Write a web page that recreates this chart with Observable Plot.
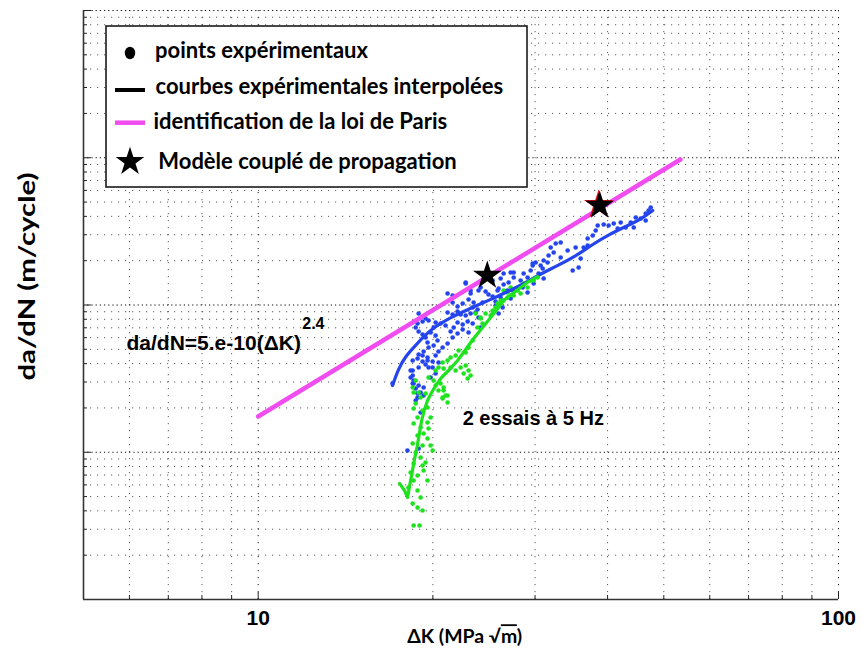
<!DOCTYPE html>
<html><head><meta charset="utf-8">
<script src="https://cdn.jsdelivr.net/npm/d3@7"></script>
<script src="https://cdn.jsdelivr.net/npm/@observablehq/plot@0.6"></script>
<style>
html,body{margin:0;padding:0;background:#fff;}
#chart{width:862px;height:653px;}
</style></head>
<body><div id="chart"></div>
<script>
// ---- Data (ΔK in MPa√m, da/dN in m/cycle) ----
const blueK = [22.78,21.20,21.63,23.23,23.97,24.65,24.94,25.35,25.96,26.48,27.01,26.69,26.17,25.65,24.36,23.51,23.04,22.51,22.06,21.63,
22.06,22.33,21.63,21.20,22.78,23.23,23.69,23.97,22.96,22.51,22.06,21.72,21.46,21.03,20.62,20.22,20.06,19.66,19.43,19.20,
18.90,18.82,18.68,18.90,19.20,19.43,19.58,19.82,20.22,20.37,20.06,19.66,19.28,18.90,18.82,19.20,19.58,20.22,20.45,20.79,
21.20,18.90,18.46,18.31,18.53,18.68,18.82,19.43,19.66,19.98,21.63,22.06,23.42,23.88,25.65,26.38,25.96,27.23,22.51,23.04,
23.42,24.17,22.78,23.23,24.17,25.35,26.17,26.48,27.23,27.56,28.33,29.12,29.48,29.72,30.07,30.67,31.04,30.92,31.65,31.92,
32.56,33.21,32.30,34.14,34.83,35.66,35.95,36.38,36.96,37.71,38.16,38.46,39.39,40.17,40.99,42.14,42.98,43.85,44.73,45.62,
46.53,47.08,47.47,46.53,44.38,41.63,36.96,35.24,33.21,30.42,28.56,26.90,28.67,29.72,31.53,27.56,25.85,27.45,29.12,29.83,
31.04,17.04,18.46,18.90,19.28,18.82,19.28,18.68,19.05,18.08,18.90,18.31,18.46,18.53,19.05,19.82,20.22,20.45,19.98,19.58,
19.20,18.46];
const blueRate = [1.399e-7,1.197e-7,1.160e-7,1.197e-7,1.254e-7,1.235e-7,1.178e-7,1.142e-7,1.294e-7,1.377e-7,1.421e-7,1.235e-7,1.124e-7,1.056e-7,1.040e-7,1.040e-7,1.089e-7,1.024e-7,9.77e-8,1.040e-7,
9.03e-8,8.62e-8,8.62e-8,8.89e-8,8.49e-8,8.75e-8,8.89e-8,8.22e-8,7.73e-8,7.37e-8,7.61e-8,7.03e-8,6.61e-8,7.26e-8,7.49e-8,7.61e-8,7.03e-8,7.85e-8,8.10e-8,7.73e-8,
8.75e-8,7.49e-8,7.03e-8,6.61e-8,6.30e-8,6.02e-8,5.56e-8,6.50e-8,6.21e-8,5.74e-8,5.31e-8,5.14e-8,4.83e-8,4.61e-8,4.33e-8,4.13e-8,4.40e-8,4.54e-8,4.83e-8,5.14e-8,
5.48e-8,3.76e-8,3.59e-8,3.22e-8,2.93e-8,2.71e-8,2.35e-8,3.94e-8,3.76e-8,4.13e-8,6.02e-8,6.40e-8,9.62e-8,9.32e-8,9.92e-8,9.62e-8,8.75e-8,1.107e-7,6.82e-8,6.50e-8,
7.49e-8,7.03e-8,1.421e-7,1.254e-7,1.314e-7,1.466e-7,1.513e-7,1.636e-7,1.662e-7,1.537e-7,1.466e-7,1.537e-7,1.715e-7,1.913e-7,1.943e-7,1.854e-7,2.005e-7,1.769e-7,2.168e-7,2.458e-7,
2.616e-7,2.658e-7,2.272e-7,2.344e-7,1.715e-7,1.797e-7,2.068e-7,2.458e-7,2.828e-7,2.964e-7,3.205e-7,3.467e-7,3.522e-7,3.467e-7,3.577e-7,3.634e-7,3.360e-7,3.634e-7,3.929e-7,3.868e-7,
4.182e-7,4.383e-7,4.594e-7,3.749e-7,3.360e-7,3.308e-7,2.536e-7,2.458e-7,2.101e-7,1.636e-7,1.314e-7,1.254e-7,1.636e-7,1.854e-7,1.943e-7,1.662e-7,1.254e-7,1.254e-7,1.215e-7,1.399e-7,
1.513e-7,2.93e-8,2.93e-8,2.84e-8,2.75e-8,2.51e-8,2.43e-8,2.245e-8,1.86e-8,1.027e-8,1.06e-8,3.59e-8,3.32e-8,3.07e-8,2.545e-8,3.22e-8,3.43e-8,4.07e-8,3.76e-8,4.20e-8,
4.54e-8,4.20e-8];

const greenK = [18.53,19.05,19.43,18.68,18.53,19.20,19.58,18.82,18.53,19.05,19.58,19.28,18.82,18.46,19.58,19.20,18.68,19.05,19.43,19.20,
18.53,18.31,18.82,19.28,18.53,19.58,18.15,18.82,19.05,18.46,18.82,19.20,18.53,18.97,20.62,20.87,20.79,21.20,21.03,19.82,
19.66,19.82,19.98,23.69,24.17,24.65,24.36,23.88,25.35,25.65,26.17,26.48,23.42,23.04,22.78,22.15,21.89,21.46,21.20,20.79,
20.45,20.87,21.46,21.89,22.33,22.78,23.04,22.60,22.96,23.23,20.22,20.06,20.22,20.45,20.87,19.66,18.68,18.46,18.90,20.79,
21.20,26.48,27.23,27.99,28.67,29.48,30.30,26.17,26.90,27.56,28.33,25.85,26.90,29.12,29.83,25.85,25.35,25.15,24.17];
const greenRate = [2.545e-8,2.354e-8,2.506e-8,2.142e-8,1.981e-8,1.920e-8,2.012e-8,1.721e-8,1.567e-8,1.472e-8,1.591e-8,1.341e-8,1.299e-8,1.146e-8,1.240e-8,1.111e-8,9.95e-9,9.21e-9,8.52e-9,8.13e-9,
8.39e-9,7.29e-9,6.95e-9,7.52e-9,6.43e-9,6.43e-9,5.76e-9,5.50e-9,4.93e-9,4.48e-9,4.21e-9,4.02e-9,3.18e-9,3.18e-9,2.930e-8,2.626e-8,2.317e-8,2.176e-8,2.428e-8,1.721e-8,
1.449e-8,1.111e-8,1.027e-8,8.75e-8,8.22e-8,8.75e-8,7.49e-8,7.03e-8,8.75e-8,9.62e-8,1.024e-7,1.073e-7,5.739e-8,5.14e-8,4.76e-8,4.909e-8,4.54e-8,4.40e-8,4.198e-8,4.07e-8,
3.76e-8,3.70e-8,3.76e-8,3.59e-8,3.76e-8,3.88e-8,3.59e-8,3.43e-8,3.17e-8,3.32e-8,3.59e-8,3.071e-8,2.84e-8,2.626e-8,2.75e-8,3.22e-8,3.071e-8,2.75e-8,2.545e-8,2.35e-8,
2.428e-8,1.254e-7,1.314e-7,1.254e-7,1.399e-7,1.466e-7,1.537e-7,1.073e-7,1.124e-7,1.160e-7,1.197e-7,9.62e-8,1.215e-7,1.314e-7,1.466e-7,1.024e-7,9.175e-8,8.49e-8,8.10e-8];

const blueCurveK = [17.04,17.45,17.94,18.53,19.28,20.06,21.29,22.60,23.79,25.15,26.70,28.33,30.30,32.30,34.97,37.41,40.50,42.99,45.62,47.85];
const blueCurveRate = [2.84e-8,3.70e-8,4.47e-8,5.14e-8,6.11e-8,7.03e-8,8.10e-8,9.03e-8,9.92e-8,1.089e-7,1.215e-7,1.356e-7,1.586e-7,1.797e-7,2.101e-7,2.536e-7,3.058e-7,3.414e-7,3.808e-7,4.383e-7];

const greenCurveK = [17.52,17.87,18.09,18.24,18.42,18.60,18.79,18.97,19.13,19.32,19.58,19.90,20.29,20.70,21.37,22.06,22.78,23.51,24.36,25.15,25.86,26.48,27.45,28.33,29.24,30.30];
const greenCurveRate = [6.14e-9,5.50e-9,4.93e-9,5.95e-9,7.29e-9,9.06e-9,1.094e-8,1.362e-8,1.642e-8,1.920e-8,2.245e-8,2.545e-8,2.885e-8,3.218e-8,3.647e-8,4.198e-8,4.985e-8,5.922e-8,7.033e-8,8.224e-8,9.468e-8,1.073e-7,1.197e-7,1.314e-7,1.443e-7,1.561e-7];

const parisK = [10, 53.4];
const parisRate = [1.75e-8, 9.73e-7];

const starK = [24.82, 38.77];
const starRate = [1.586e-7, 4.74e-7];

// annotations
const formulaText = ["da/dN=5.e-10(ΔK)"];
const formulaK = [5.93];
const formulaRate = [5.48e-8];
const exponentText = ["2.4"];
const exponentK = [11.91];
const exponentRate = [7.49e-8];
const essaisText = ["2 essais à 5 Hz"];
const essaisK = [22.51];
const essaisRate = [1.694e-8];

// axes / ticks
const xGridTicks = [5,6,7,8,9,10,20,30,40,50,60,70,80,90,100];
const xMajorTicks = [10, 100];
const yMantissas = [1,2,3,4,5,6,7,8,9];
const yDecades = [-9,-8,-7,-6];
const yMajorTicks = [1e-9,1e-8,1e-7,1e-6,1e-5];
const yGridTicks = [];
for (const e of yDecades) for (const m of yMantissas) yGridTicks.push(+(m + "e" + e));
yGridTicks.push(1e-5);
const yMinorTicks = yGridTicks.filter(v => !yMajorTicks.includes(v));
const xMinorTicks = xGridTicks.filter(v => !xMajorTicks.includes(v));

const xLabel = "ΔK (MPa √m)";
const yLabel = "da/dN (m/cycle)";
const legendLabels = ["points expérimentaux", "courbes expérimentales interpolées", "identification de la loi de Paris", "Modèle couplé de propagation"];

const BLUE = "#2444ee", GREEN = "#1ee21e", PINK = "#f04cf0";
const W = 862, H = 653, ML = 83, MR = 24, MT = 10, MB = 54;
const FW = W - ML - MR, FH = H - MT - MB;
const idx = n => Array.from({length: n}, (_, i) => i);

const chart = Plot.plot({
  width: W, height: H,
  marginLeft: ML, marginRight: MR, marginTop: MT, marginBottom: MB,
  style: {background: "#fff", fontFamily: "'Liberation Sans', Arial, sans-serif", overflow: "visible"},
  x: {type: "log", domain: [5, 100], axis: null},
  y: {type: "log", domain: [1e-9, 1e-5], axis: null},
  marks: [
    Plot.gridX(xMinorTicks, {stroke: "#333", strokeOpacity: 0.8, strokeDasharray: "1.2,5.8"}),
    Plot.gridX(xMajorTicks, {stroke: "#000", strokeOpacity: 0.9, strokeDasharray: "1.2,5.8"}),
    Plot.gridY(yMinorTicks, {stroke: "#333", strokeOpacity: 0.8, strokeDasharray: "1.2,5.8"}),
    Plot.gridY(yMajorTicks, {stroke: "#000", strokeOpacity: 0.95, strokeDasharray: "1.2,3"}),
    Plot.tickY(yMinorTicks, {y: d => d, insetRight: FW - 4, stroke: "#222"}),
    Plot.tickY(yMajorTicks, {y: d => d, insetRight: FW - 8, stroke: "#222"}),
    Plot.tickX(xMinorTicks, {x: d => d, insetTop: FH - 4, stroke: "#222"}),
    Plot.tickX(xMajorTicks, {x: d => d, insetTop: FH - 7, stroke: "#222"}),
    Plot.ruleY([1e-9], {stroke: "#333", strokeWidth: 1.6}),
    Plot.ruleX([5], {stroke: "#333", strokeWidth: 1.6}),
    Plot.axisX(xMajorTicks, {tickSize: 0, tickPadding: 11, tickFormat: d => String(d), fontSize: 21, fontWeight: "bold", label: null, fontFamily: "'Liberation Sans', Arial, sans-serif"}),
    Plot.dot(idx(blueK.length), {x: blueK, y: blueRate, r: 2.3, fill: BLUE}),
    Plot.dot(idx(greenK.length), {x: greenK, y: greenRate, r: 2.3, fill: GREEN}),
    Plot.line(idx(parisK.length), {x: parisK, y: parisRate, stroke: PINK, strokeWidth: 4.5}),
    Plot.line(idx(blueCurveK.length), {x: blueCurveK, y: blueCurveRate, stroke: BLUE, strokeWidth: 3.2, curve: "basis"}),
    Plot.line(idx(greenCurveK.length), {x: greenCurveK, y: greenCurveRate, stroke: GREEN, strokeWidth: 3.2}),
    Plot.dot([1], {x: [starK[1]], y: [starRate[1]], symbol: "star", r: 9.3, fill: "#e01010", dx: -1, dy: -0.8}),
    Plot.dot(idx(starK.length), {x: starK, y: starRate, symbol: "star", r: 9, fill: "#000"}),
    Plot.text(formulaText, {x: formulaK, y: formulaRate, text: d => d, textAnchor: "start", lineAnchor: "middle", fontSize: 21, fontWeight: "bold", fill: "#000"}),
    Plot.text(exponentText, {x: exponentK, y: exponentRate, text: d => d, textAnchor: "start", lineAnchor: "middle", fontSize: 16, fontWeight: "bold", fill: "#000"}),
    Plot.text(essaisText, {x: essaisK, y: essaisRate, text: d => d, textAnchor: "start", lineAnchor: "middle", fontSize: 20, fontWeight: "bold", fill: "#000"}),
    Plot.text([yLabel], {text: d => d, frameAnchor: "left", dx: -56, dy: -28.5, rotate: -90, textAnchor: "middle", lineAnchor: "middle", fontSize: 22, fontWeight: "bold", fontFamily: "Lato, 'Open Sans', sans-serif", fill: "#000"}),
    Plot.text([xLabel], {text: d => d, frameAnchor: "bottom", dx: 3.7, dy: 38, textAnchor: "middle", lineAnchor: "middle", fontSize: 18, fontWeight: "bold", fontFamily: "Lato, 'Open Sans', sans-serif", fill: "#000"})
  ]
});

document.getElementById("chart").appendChild(chart);
const svg = d3.select(chart);

// stretch axis labels to the reference lengths
svg.selectAll("text").filter(function(){ return this.textContent === yLabel; })
  .attr("textLength", 208).attr("lengthAdjust", "spacingAndGlyphs");
const xl = svg.selectAll("text").filter(function(){ return this.textContent === xLabel; });
xl.text(null);
xl.append("tspan").text("ΔK (MPa √");
xl.append("tspan").style("text-decoration", "overline").text("m");
xl.append("tspan").text(")");
xl.attr("textLength", 115).attr("lengthAdjust", "spacingAndGlyphs");

// legend box
const lg = svg.append("g").attr("font-family", "Lato, 'Open Sans', sans-serif").attr("font-weight", 700).attr("font-size", 22).attr("fill", "#000").attr("text-anchor", "start");
lg.append("rect").attr("x", 106).attr("y", 26).attr("width", 421).attr("height", 161)
  .attr("fill", "#fff").attr("stroke", "#1a1a1a").attr("stroke-width", 1.6);
lg.append("ellipse").attr("cx", 130).attr("cy", 53).attr("rx", 5.2).attr("ry", 6.2).attr("fill", "#000");
lg.append("line").attr("x1", 115).attr("x2", 145).attr("y1", 90).attr("y2", 90).attr("stroke", "#000").attr("stroke-width", 4);
lg.append("line").attr("x1", 115).attr("x2", 145).attr("y1", 122.7).attr("y2", 122.7).attr("stroke", PINK).attr("stroke-width", 4.5);
lg.append("path").attr("d", d3.symbol(d3.symbolStar, Math.PI * 81)()).attr("transform", "translate(130,161.7)").attr("fill", "#000");
const lx = [155, 155.5, 153.5, 158.3], ly = [58.3, 94, 129.3, 169];
legendLabels.forEach((t, i) => lg.append("text").attr("x", lx[i]).attr("y", ly[i]).attr("text-anchor", "start").text(t));
</script></body></html>
